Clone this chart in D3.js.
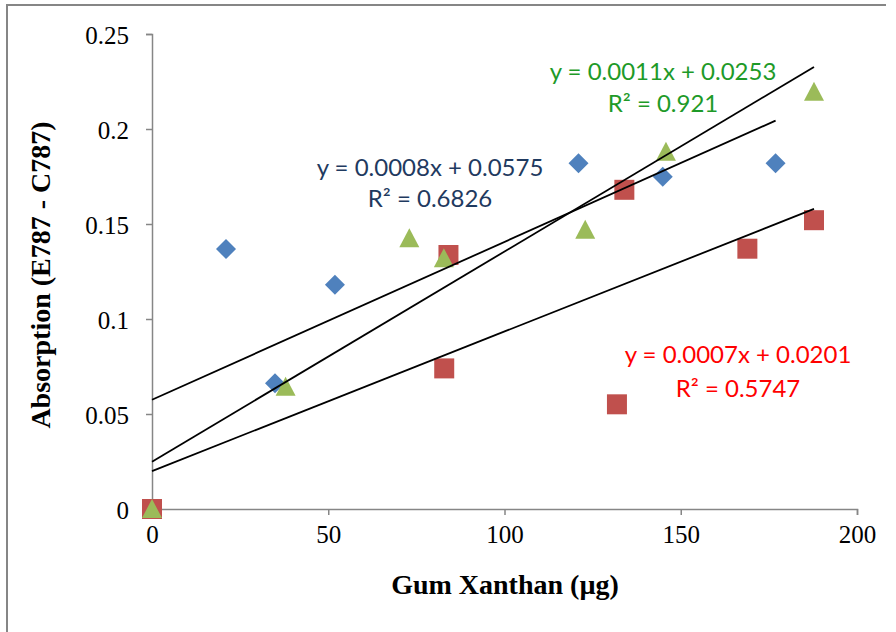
<!DOCTYPE html>
<html>
<head>
<meta charset="utf-8">
<script src="https://cdn.jsdelivr.net/npm/d3@7"></script>
<style>
  html, body { margin: 0; padding: 0; background: #fff; }
  svg { display: block; }
</style>
</head>
<body>
<div id="chart"></div>
<script>
// data (x in µg, y absorption)
const blueX = [0, 21, 34.9, 51.9, 121, 144.9, 176.9];
const blueY = [0, 0.1368, 0.0662, 0.118, 0.182, 0.1749, 0.182];
const redX = [0, 84.1, 82.9, 134, 131.9, 168.9, 187.8];
const redY = [0, 0.1337, 0.074, 0.168, 0.0551, 0.137, 0.152];
const greenX = [0, 37.9, 73, 82.8, 122.9, 145.8, 187.8];
const greenY = [0, 0.0644, 0.1425, 0.132, 0.147, 0.188, 0.2196];

const xTicks = [0, 50, 100, 150, 200];
const yTicks = [0, 0.05, 0.1, 0.15, 0.2, 0.25];
const yTickLabels = ["0", "0.05", "0.1", "0.15", "0.2", "0.25"];

const eqBlue = ["y = 0.0008x + 0.0575", "R² = 0.6826"];
const eqRed = ["y = 0.0007x + 0.0201", "R² = 0.5747"];
const eqGreen = ["y = 0.0011x + 0.0253", "R² = 0.921"];

const width = 896, height = 632;
const plotLeft = 152, plotRight = 857, plotTop = 34, plotBottom = 509;

const svg = d3.select("#chart").append("svg")
  .attr("width", width)
  .attr("height", height);

// outer frame (only left + top edges visible)
svg.append("line").attr("x1", 7).attr("x2", 7).attr("y1", 4).attr("y2", height)
  .attr("stroke", "#868686").attr("stroke-width", 2);
svg.append("line").attr("x1", 6).attr("x2", 886).attr("y1", 5).attr("y2", 5)
  .attr("stroke", "#868686").attr("stroke-width", 2);

const x = d3.scaleLinear().domain([0, 200]).range([plotLeft, plotRight]);
const y = d3.scaleLinear().domain([0, 0.25]).range([plotBottom, plotTop]);

// axes
const xAxis = svg.append("g")
  .attr("transform", `translate(0,${plotBottom})`)
  .call(d3.axisBottom(x).tickValues(xTicks).tickSize(6).tickPadding(10).tickFormat(d3.format("d")));
const yAxis = svg.append("g")
  .attr("transform", `translate(${plotLeft},0)`)
  .call(d3.axisLeft(y).tickValues(yTicks).tickSize(6).tickPadding(17)
    .tickFormat((d, i) => yTickLabels[i]));

[xAxis, yAxis].forEach(function(g) {
  g.select(".domain").attr("stroke", "#868686").attr("stroke-width", 1.5);
  g.selectAll(".tick line").attr("stroke", "#868686").attr("stroke-width", 1.5);
  g.selectAll(".tick text")
    .attr("fill", "#000")
    .style("font-family", "'Liberation Serif', 'Times New Roman', serif")
    .style("font-size", "25px");
});
yAxis.selectAll(".tick text").attr("dy", "0.36em");

// axis titles
svg.append("text")
  .attr("x", 505).attr("y", 594)
  .attr("text-anchor", "middle")
  .style("font-family", "'Liberation Serif', 'Times New Roman', serif")
  .style("font-weight", "bold")
  .style("font-size", "28px")
  .text("Gum Xanthan (µg)");

svg.append("text")
  .attr("transform", "translate(50,275) rotate(-90)")
  .attr("text-anchor", "middle")
  .style("font-family", "'Liberation Serif', 'Times New Roman', serif")
  .style("font-weight", "bold")
  .style("font-size", "28px")
  .text("Absorption (E787 - C787)");

// markers
const triangle = {
  draw(ctx, size) {
    const r = Math.sqrt(size) / 2;
    ctx.moveTo(0, -r);
    ctx.lineTo(r, r * 0.9);
    ctx.lineTo(-r, r * 0.9);
    ctx.closePath();
  }
};

const series = [
  { xs: blueX, ys: blueY, color: "#4F81BD", symbol: d3.symbolSquare, size: 200, rotate: 45 },
  { xs: redX, ys: redY, color: "#C0504D", symbol: d3.symbolSquare, size: 400, rotate: 0 },
  { xs: greenX, ys: greenY, color: "#9BBB59", symbol: triangle, size: 400, rotate: 0 }
];

series.forEach(function(s) {
  const pts = s.xs.map((v, i) => ({ x: v, y: s.ys[i] }));
  svg.append("g").selectAll("path")
    .data(pts)
    .enter()
    .append("path")
    .attr("d", d3.symbol().type(s.symbol).size(s.size))
    .attr("transform", d => `translate(${x(d.x)},${y(d.y)}) rotate(${s.rotate})`)
    .attr("fill", s.color);
});

// linear trendlines (least squares, like Excel)
function fit(xs, ys) {
  const mx = d3.mean(xs), my = d3.mean(ys);
  const sxy = d3.sum(xs, (v, i) => (v - mx) * (ys[i] - my));
  const sxx = d3.sum(xs, v => (v - mx) * (v - mx));
  const slope = sxy / sxx;
  return { slope: slope, intercept: my - slope * mx };
}

const line = d3.line().x(d => x(d[0])).y(d => y(d[1]));

series.forEach(function(s) {
  const f = fit(s.xs, s.ys);
  const x1 = d3.max(s.xs);
  svg.append("path")
    .attr("d", line([[0, f.intercept], [x1, f.intercept + f.slope * x1]]))
    .attr("fill", "none")
    .attr("stroke", "#000")
    .attr("stroke-width", 1.8);
});

// equation labels
function label(lines, cx, y1, y2, color) {
  const t = svg.append("g")
    .style("font-family", "Lato, 'Open Sans', sans-serif")
    .style("font-size", "24px")
    .attr("fill", color)
    .attr("text-anchor", "middle");
  t.append("text").attr("x", cx).attr("y", y1).text(lines[0]);
  t.append("text").attr("x", cx).attr("y", y2).text(lines[1]);
}

label(eqBlue, 430, 176, 207, "#1F3A60");
label(eqGreen, 663, 80, 112, "#1E9A28");
label(eqRed, 738, 363, 397, "#FF0000");
</script>
</body>
</html>
